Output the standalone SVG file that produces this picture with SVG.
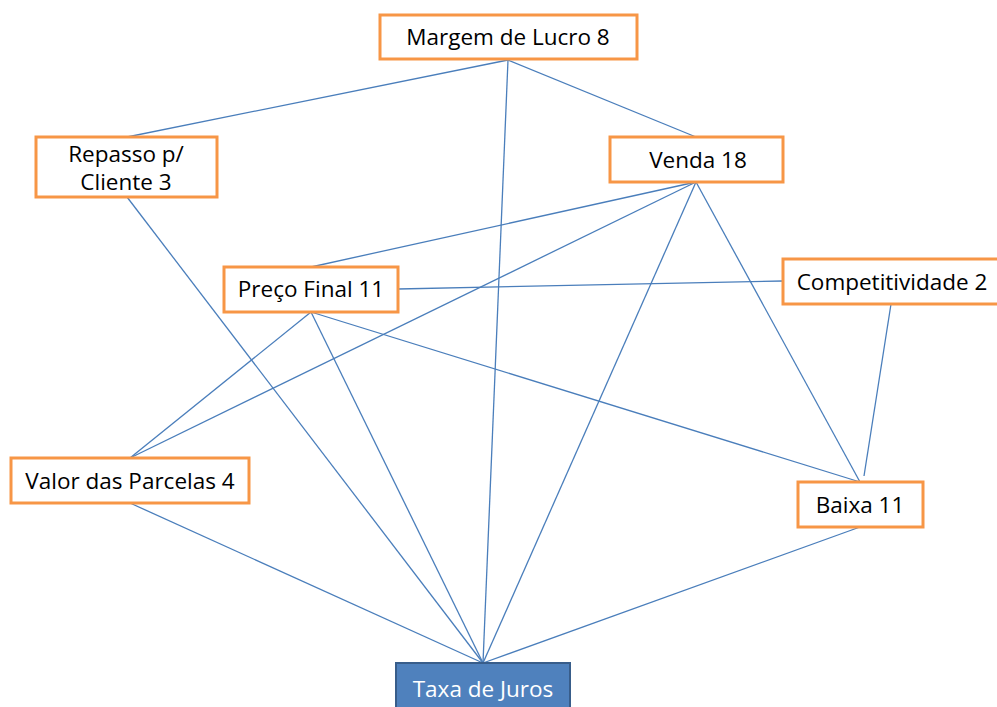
<svg xmlns="http://www.w3.org/2000/svg" width="997" height="707" viewBox="0 0 997 707">
<style>
.box{fill:#fff;stroke:#F79646;stroke-width:3}
.lbl{font-family:"Open Sans","Liberation Sans",sans-serif;font-size:22.5px;fill:#000;text-anchor:middle}
.con line{stroke:#4A7EBB;stroke-width:1.3}
</style>
<rect width="997" height="707" fill="#fff"/>
<g id="connectors" class="con">
<line x1="508" y1="60" x2="127" y2="137"/>
<line x1="508" y1="60" x2="696" y2="137"/>
<line x1="508" y1="60" x2="483" y2="663"/>
<line x1="127" y1="197" x2="483" y2="663"/>
<line x1="696" y1="182" x2="311" y2="267"/>
<line x1="696" y1="182" x2="130" y2="458"/>
<line x1="696" y1="182" x2="483" y2="663"/>
<line x1="696" y1="182" x2="860" y2="482"/>
<line x1="398" y1="289" x2="783" y2="281"/>
<line x1="891" y1="304" x2="864" y2="476"/>
<line x1="311" y1="312" x2="130" y2="458"/>
<line x1="311" y1="312" x2="483" y2="663"/>
<line x1="311" y1="312" x2="860" y2="482"/>
<line x1="130" y1="503" x2="483" y2="663"/>
<line x1="860" y1="527" x2="483" y2="663"/>
</g>
<g id="margem">
<rect class="box" x="380" y="15" width="257" height="44"/>
<text class="lbl" x="508" y="45">Margem de Lucro 8</text>
</g>
<g id="repasso">
<rect class="box" x="36" y="137" width="181" height="60"/>
<text class="lbl" x="126" y="162">Repasso p/</text>
<text class="lbl" x="126" y="190">Cliente 3</text>
</g>
<g id="venda">
<rect class="box" x="610" y="137" width="173" height="45"/>
<text class="lbl" x="698" y="168">Venda 18</text>
</g>
<g id="preco">
<rect class="box" x="224" y="267" width="174" height="45"/>
<text class="lbl" x="311" y="297">Preço Final 11</text>
</g>
<g id="competitividade">
<rect class="box" x="783" y="259" width="220" height="45"/>
<text class="lbl" x="892" y="290">Competitividade 2</text>
</g>
<g id="valor">
<rect class="box" x="11" y="458" width="238" height="45"/>
<text class="lbl" x="130" y="489">Valor das Parcelas 4</text>
</g>
<g id="baixa">
<rect class="box" x="798" y="482" width="125" height="45"/>
<text class="lbl" x="860" y="513">Baixa 11</text>
</g>
<g id="taxa">
<rect x="396" y="663" width="174" height="50" fill="#4F81BD" stroke="#385D8A" stroke-width="2"/>
<text class="lbl" x="483" y="697" style="fill:#fff">Taxa de Juros</text>
</g>
</svg>
